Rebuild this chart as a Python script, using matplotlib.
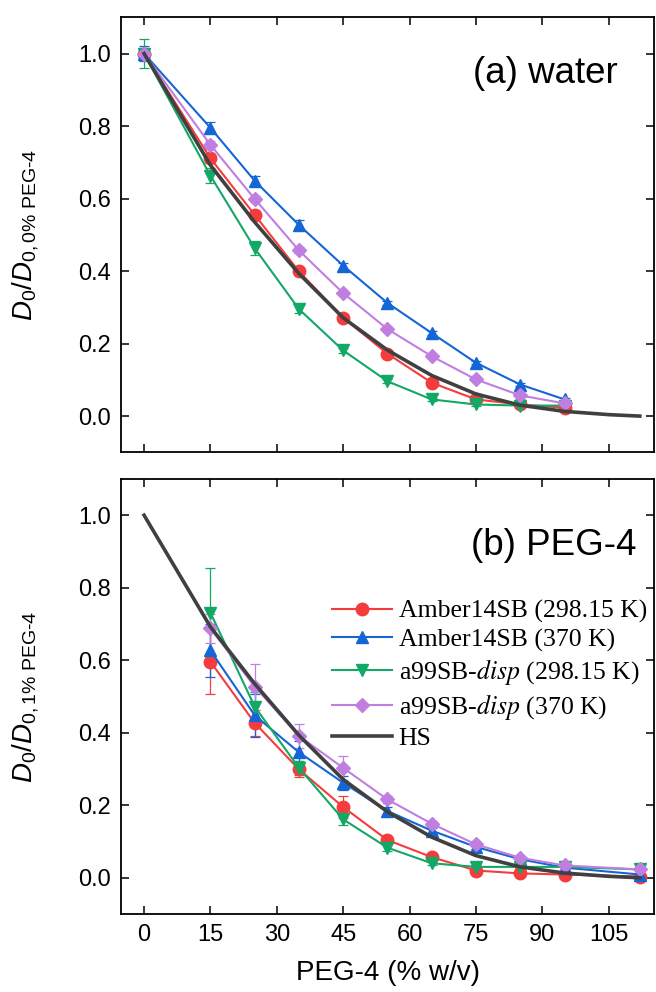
import matplotlib
matplotlib.use("Agg")
import matplotlib.pyplot as plt
from matplotlib.font_manager import FontProperties

plt.rcParams['font.family'] = ['Liberation Sans', 'DejaVu Sans']
plt.rcParams['mathtext.fontset'] = 'custom'
plt.rcParams['mathtext.rm'] = 'Liberation Sans'
plt.rcParams['mathtext.sf'] = 'Liberation Sans'
plt.rcParams['mathtext.it'] = 'Liberation Sans:italic'

# concentrations (% w/v)
x_water = [0, 15, 25, 35, 45, 55, 65, 75, 85, 95]
x_peg = [15, 25, 35, 45, 55, 65, 75, 85, 95, 112]
x_hs = [0, 15, 25, 35, 45, 55, 65, 75, 85, 95, 105, 112]

# HS model curve
hs = [1.0, 0.692, 0.535, 0.393, 0.271, 0.182, 0.112, 0.061, 0.030, 0.013, 0.004, 0.0]

# (a) water
a_amb298 = [1.0, 0.711, 0.555, 0.399, 0.271, 0.172, 0.092, 0.046, 0.032, 0.023]
a_amb298_err = [0.015, 0.012, 0.010, 0.010, 0.008, 0.006, 0.005, 0.004, 0.003, 0.003]
a_amb370 = [1.0, 0.795, 0.649, 0.527, 0.415, 0.312, 0.229, 0.147, 0.087, 0.046]
a_amb370_err = [0.02, 0.015, 0.012, 0.015, 0.008, 0.006, 0.005, 0.004, 0.004, 0.003]
a_dsp298 = [1.0, 0.663, 0.463, 0.295, 0.181, 0.096, 0.046, 0.032, 0.029, 0.029]
a_dsp298_err = [0.041, 0.02, 0.02, 0.012, 0.008, 0.006, 0.005, 0.004, 0.003, 0.003]
a_dsp370 = [1.0, 0.748, 0.599, 0.457, 0.339, 0.240, 0.165, 0.101, 0.057, 0.035]
a_dsp370_err = [0.012, 0.01, 0.008, 0.008, 0.006, 0.005, 0.004, 0.004, 0.003, 0.003]

# (b) PEG-4
b_amb298 = [0.596, 0.427, 0.299, 0.195, 0.104, 0.057, 0.020, 0.012, 0.009, 0.003]
b_amb298_err = [0.088, 0.035, 0.022, 0.03, 0.008, 0.006, 0.004, 0.003, 0.003, 0.002]
b_amb370 = [0.627, 0.448, 0.346, 0.262, 0.184, 0.130, 0.085, 0.051, 0.028, 0.009]
b_amb370_err = [0.074, 0.06, 0.03, 0.02, 0.01, 0.008, 0.006, 0.004, 0.003, 0.002]
b_dsp298 = [0.731, 0.472, 0.303, 0.161, 0.083, 0.040, 0.030, 0.030, 0.030, 0.023]
b_dsp298_err = [0.122, 0.04, 0.02, 0.015, 0.008, 0.005, 0.004, 0.004, 0.004, 0.003]
b_dsp370 = [0.688, 0.527, 0.391, 0.303, 0.216, 0.149, 0.092, 0.055, 0.034, 0.023]
b_dsp370_err = [0.04, 0.063, 0.032, 0.034, 0.01, 0.008, 0.006, 0.004, 0.003, 0.003]

labels = ['Amber14SB (298.15 K)', 'Amber14SB (370 K)',
          'a99SB-$\\mathit{disp}$ (298.15 K)', 'a99SB-$\\mathit{disp}$ (370 K)', 'HS']
colors = ['#f53c3c', '#1466d6', '#12a866', '#c07ee0']
markers = ['o', '^', 'v', 'D']
msizes = [9, 9, 9, 7.5]
hs_color = '#404040'

fig = plt.figure(figsize=(6.56, 9.92), dpi=100)
ax1 = fig.add_axes([0.1845, 0.544, 0.813, 0.4386])
ax2 = fig.add_axes([0.1845, 0.0786, 0.813, 0.4386])

def draw(ax, xs, series, errs):
    hands = []
    for y, e, c, m, ms in zip(series, errs, colors, markers, msizes):
        cont = ax.errorbar(xs, y, yerr=e, color=c, marker=m, markersize=ms, lw=1.5,
                           elinewidth=0.9, capsize=3.3, capthick=0.9, zorder=3)
        hands.append(cont[0])
    hl, = ax.plot(x_hs, hs, color=hs_color, lw=2.6, zorder=4)
    hands.append(hl)
    ax.set_xlim(-5.2, 115.3)
    ax.set_ylim(-0.1, 1.1)
    ax.set_xticks([0, 15, 30, 45, 60, 75, 90, 105])
    ax.set_yticks([0.0, 0.2, 0.4, 0.6, 0.8, 1.0])
    ax.tick_params(direction='in', length=6, width=1.1, top=True, right=True,
                   labelsize=17, pad=7)
    for s in ax.spines.values():
        s.set_linewidth(1.3)
    return hands

draw(ax1, x_water, [a_amb298, a_amb370, a_dsp298, a_dsp370],
     [a_amb298_err, a_amb370_err, a_dsp298_err, a_dsp370_err])
handles = draw(ax2, x_peg, [b_amb298, b_amb370, b_dsp298, b_dsp370],
               [b_amb298_err, b_amb370_err, b_dsp298_err, b_dsp370_err])

ax1.tick_params(labelbottom=False)
ax1.text(0.931, 0.87, '(a) water', transform=ax1.transAxes, ha='right', va='center', fontsize=26.5)
ax2.text(0.966, 0.846, '(b) PEG-4', transform=ax2.transAxes, ha='right', va='center', fontsize=26.5)

ax1.set_ylabel('$D_0/D_{\\mathsf{0,0\\%\\ PEG\u20104}}$', fontsize=20)
ax2.set_ylabel('$D_0/D_{\\mathsf{0,1\\%\\ PEG\u20104}}$', fontsize=20)
ax1.yaxis.set_label_coords(-0.15, 0.5)
ax2.yaxis.set_label_coords(-0.15, 0.5)
ax2.set_xlabel('PEG-4 (% w/v)', fontsize=20, labelpad=10)

leg_font = FontProperties(family='Liberation Serif', size=18.5, math_fontfamily='stix')
ax2.legend(handles, labels, loc='upper left', bbox_to_anchor=(0.395, 0.722), frameon=False,
           prop=leg_font, borderpad=0, borderaxespad=0, handlelength=2.35,
           handletextpad=0.25, labelspacing=0.2)

plt.savefig('out.png', dpi=100)
